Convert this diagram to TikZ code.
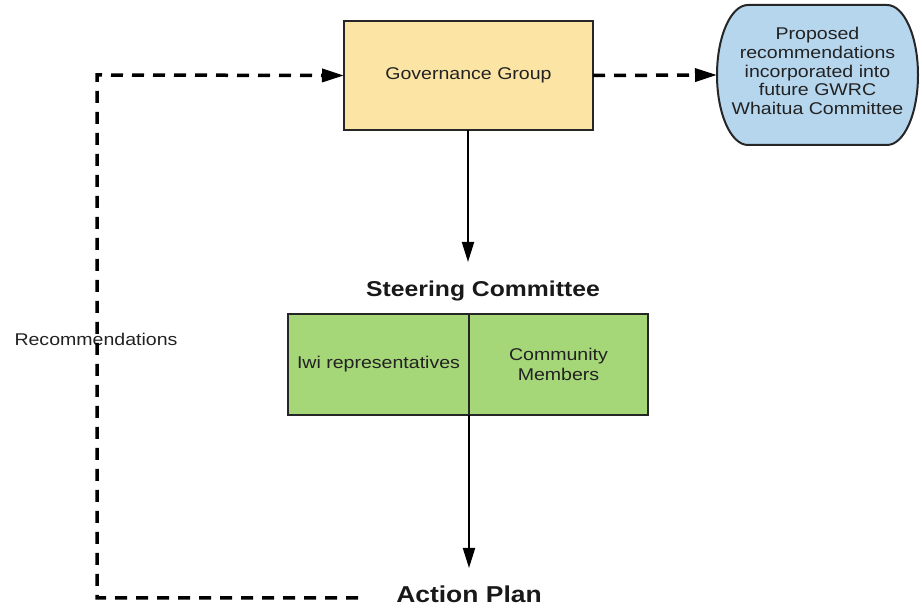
\documentclass[tikz,border=0pt]{standalone}
\usepackage{fontspec}
\setmainfont{Liberation Sans}[FakeStretch=1.15]
\usetikzlibrary{arrows.meta}
\definecolor{govfill}{RGB}{252,229,164}
\definecolor{bluefill}{RGB}{182,214,238}
\definecolor{greenfill}{RGB}{165,214,120}
\definecolor{txt}{RGB}{34,34,34}
\tikzset{
  box/.style={draw=black!85, line width=2pt, inner sep=0pt, outer sep=0pt, text=txt,
              font=\fontsize{17}{18.5}\selectfont, align=center},
  solidarrow/.style={line width=2pt, -{Triangle[length=20pt,width=12pt]}},
  dasharrow/.style={line width=3.5pt, dash pattern=on 12pt off 9pt,
              -{Triangle[length=22pt,width=13pt]}},
  title/.style={font=\bfseries\fontsize{21.5}{24}\selectfont, text=black!90},
  plain/.style={font=\fontsize{17}{18.5}\selectfont, text=txt}
}
\begin{document}
\begin{tikzpicture}[x=1pt,y=1pt]
\useasboundingbox (0,0) rectangle (922,612);
% Governance group
\node[box, fill=govfill, minimum width=249pt, minimum height=109pt] (gov) at (468.5,536.5) {Governance Group};
% Blue terminal shape
\draw[draw=black!85, line width=2pt, fill=bluefill]
  (748,607) -- (887,607)
  arc[start angle=90, end angle=-90, x radius=31, y radius=70]
  -- (748,467)
  arc[start angle=270, end angle=90, x radius=31, y radius=70] -- cycle;
\node[plain, align=center, font=\fontsize{17}{18.7}\selectfont] (prop) at (817.5,541) {Proposed\\recommendations\\incorporated into\\future GWRC\\Whaitua Committee};
\coordinate (propw) at (717,537);
% Steering committee
\node[title] (steer) at (483,321) {Steering Committee};
\node[box, fill=greenfill, minimum width=181pt, minimum height=101pt] (iwi) at (378.5,247.5) {Iwi representatives};
\node[box, fill=greenfill, minimum width=179pt, minimum height=101pt, anchor=west,
      font=\fontsize{17}{20}\selectfont] (comm) at (iwi.east) {Community\\Members};
% Action plan
\node[title, font=\bfseries\fontsize{23}{26}\selectfont] (plan) at (469,18) {Action Plan};
% Recommendations label
\node[plain] (rec) at (96,273) {Recommendations};
% Connectors
\coordinate (gtop) at (468,350);
\draw[solidarrow] (gov.south -| 468,0) -- (gtop);
\coordinate (gbot) at (469,44);
\draw[solidarrow] (iwi.south east) -- (gbot);
\draw[dasharrow] (gov.east) -- (propw);
\coordinate (l1) at (358,14);
\coordinate (l2) at (97,14);
\coordinate (l3) at (97,537);
\draw[dasharrow] (l1) -- (l2) -- (l3) -- (gov.west);
\end{tikzpicture}
\end{document}
